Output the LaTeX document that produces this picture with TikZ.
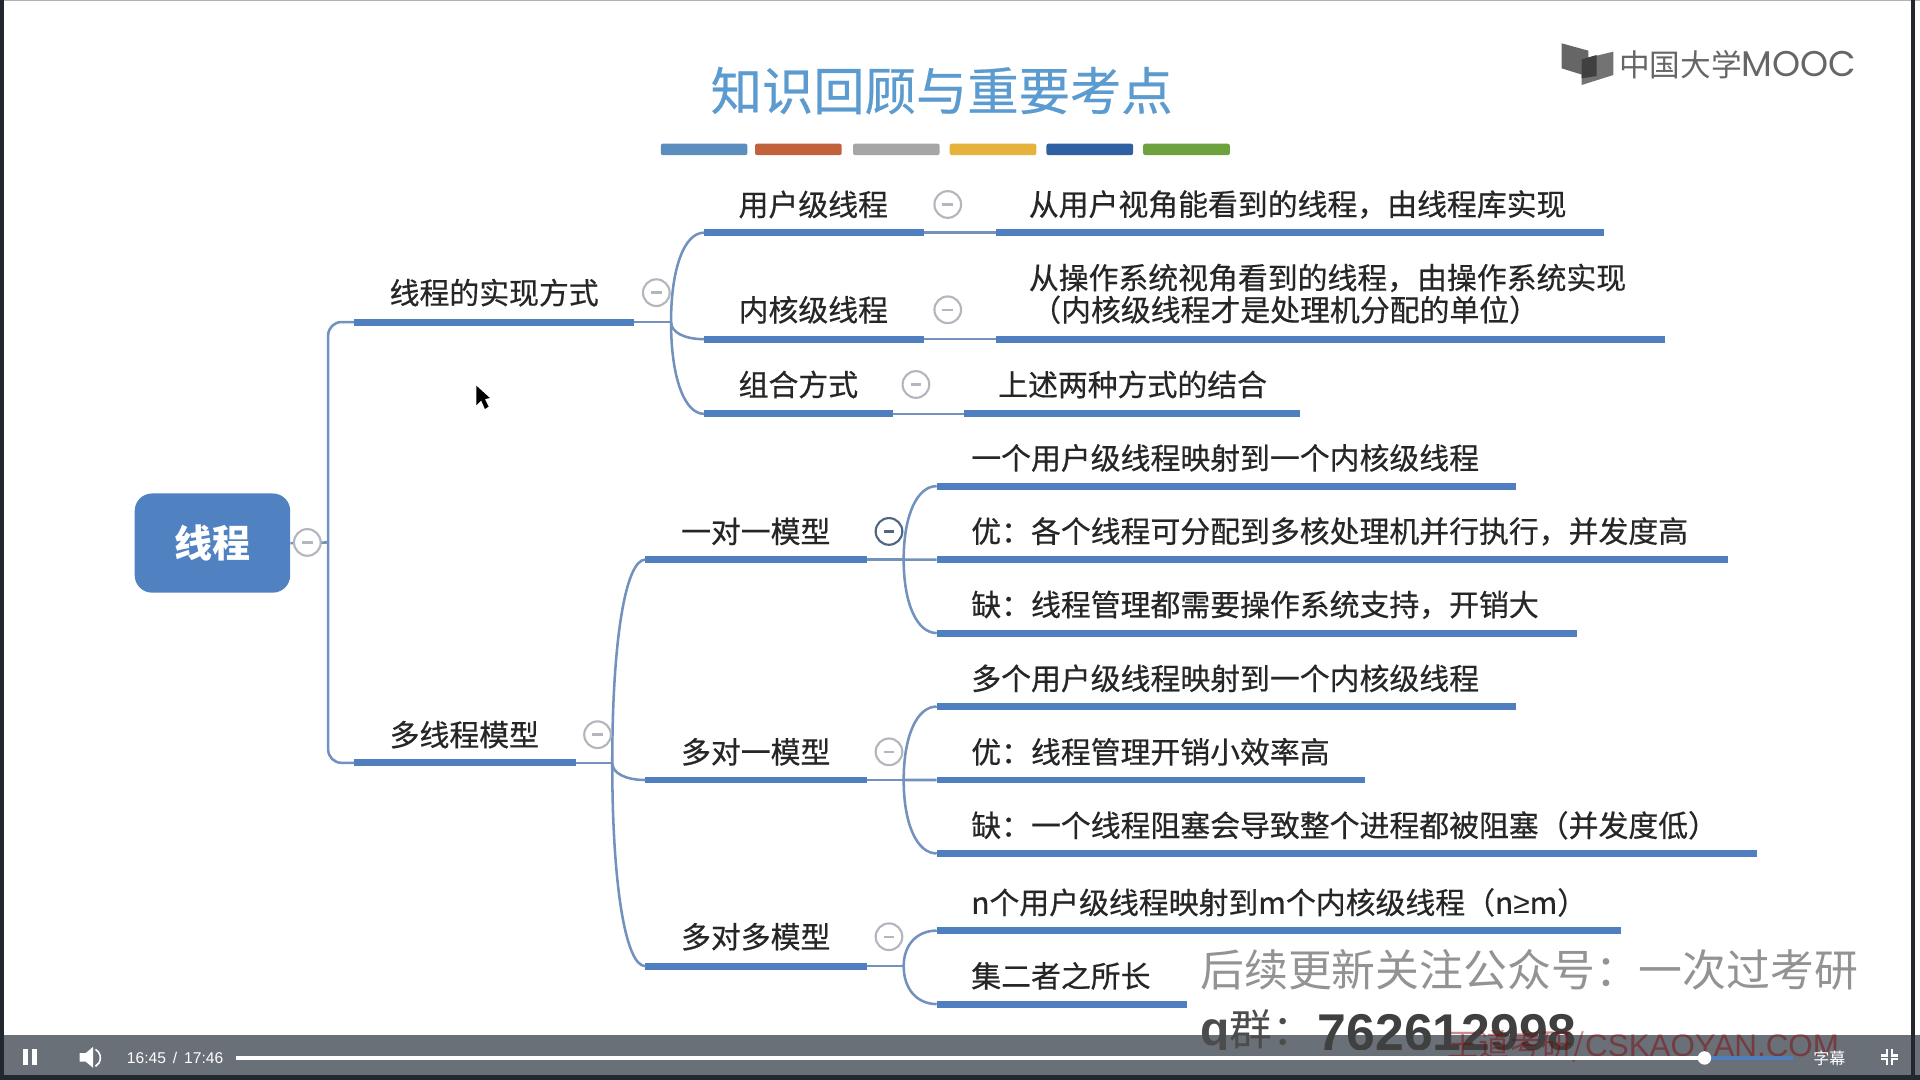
\documentclass[tikz,border=0pt]{standalone}
\usepackage{fontspec}
\usetikzlibrary{calc}
\setmainfont{Noto Sans CJK SC}
\newfontfamily\latinbold{Liberation Sans}
\newfontfamily\lblfont[FakeBold=0.5]{Noto Sans CJK SC}
\newfontfamily\moocfont{Poppins}
\newcommand{\qcomma}{\symbol{"FF0C}}
\newcommand{\qcolon}{\symbol{"FF1A}}
\definecolor{barblue}{HTML}{4F7FBE}
\definecolor{lineblue}{HTML}{7391BD}
\definecolor{rootblue}{HTML}{5081C1}
\definecolor{txt}{HTML}{262626}
\definecolor{playerbar}{HTML}{6A7078}
\definecolor{titleblue}{HTML}{5B9BD0}
\definecolor{darkedge}{HTML}{23272E}
\definecolor{foldgray}{HTML}{B4B6BE}
\tikzset{
  barline/.style={fill=barblue,draw=none,inner sep=0pt,outer sep=0pt,minimum height=5.2pt},
  conn/.style={draw=lineblue,line width=1.9pt},
  lbl/.style={anchor=west,inner sep=0pt,text=txt,font=\lblfont\fontsize{22.4}{26}\selectfont},
  fold/.style={circle,draw=#1,fill=white,line width=1.6pt,minimum size=20pt,inner sep=0pt,text=#1},
  fold/.default={foldgray},
  swatch/.style={draw=none,inner sep=0pt,minimum height=8.5pt,minimum width=65pt,rounded corners=1.5pt}
}
\newcommand{\tbar}[4]{\pgfmathsetlengthmacro\tw{(#3-#2)*0.91837pt}\node[barline,minimum width=\tw] (#1) at ({(#2+#3)/2},#4) {};}
\newcommand{\minusmark}{\rule{8pt}{1.8pt}}
\begin{document}
\begin{tikzpicture}[x=0.91837pt,y=-0.91837pt]
\useasboundingbox (0,0) rectangle (1568,882);
\fill[white] (0,0) rectangle (1568,882);
\fill[gray!60] (0,0) rectangle (1568,1);

% title
\node[inner sep=0pt,text=titleblue,font=\lblfont\fontsize{38.5}{44}\selectfont] (title) at (769,74) {知识回顾与重要考点};
\foreach \n/\a/\c in {s1/575/5B8EBF,s2/652/C2623C,s3/732/A6A6A6,s4/811/E5B33C,s5/890/2F60A3,s6/969/6EA23F}{
  \definecolor{tmpc}{HTML}{\c}
  \node[swatch,fill=tmpc] (\n) at (\a,122) {};
}

% logo
\begin{scope}[shift={(1225,16.33)},x=0.25pt,y=-0.25pt]
\fill[black!60] (185,70) -- (265,92) -- (265,170) -- (185,145) -- cycle;
\fill[black!55] (245,118) -- (340,95) -- (340,165) -- (245,195) -- cycle;
\fill[black!75] (245,118) -- (290,105) -- (290,168) -- (245,175) -- cycle;
\end{scope}
\node[anchor=west,inner sep=0pt,text=black!60,font=\fontsize{23}{26}\selectfont] (logo) at (1322,53) {中国大学{\moocfont\fontsize{26.8}{26}\selectfont MOOC}};

% root
\node[rounded corners=13pt,fill=rootblue,minimum width=116.6pt,minimum height=74.4pt,inner sep=0pt,text=white,font=\fontsize{28.5}{32}\selectfont\bfseries] (root) at (173.5,443.5) {线程};

% bars
\tbar{a}{289}{518}{263}
\tbar{b}{289}{470}{623}
\tbar{a1}{575}{755}{190}
\tbar{a2}{575}{755}{277}
\tbar{a3}{575}{729}{338}
\tbar{a1x}{813}{1310}{190}
\tbar{a2x}{813}{1360}{277}
\tbar{a3x}{787}{1062}{338}
\tbar{b1}{527}{708}{457}
\tbar{b2}{527}{708}{637}
\tbar{b3}{527}{708}{789}
\tbar{b1a}{765}{1238}{397}
\tbar{b1b}{765}{1411}{457}
\tbar{b1c}{765}{1288}{517}
\tbar{b2a}{765}{1238}{577}
\tbar{b2b}{765}{1115}{637}
\tbar{b2c}{765}{1435}{697}
\tbar{b3a}{765}{1324}{760}
\tbar{b3b}{765}{969}{820}

% junctions
\coordinate (jr) at (268,443);
\coordinate (ja) at (548,263);
\coordinate (jb) at (500,623);
\coordinate (jb1) at (738,457);
\coordinate (jb2) at (738,637);
\coordinate (jb3) at (738,789);

% connectors
\draw[conn,rounded corners=10pt] (a.west) -| (jr) |- (b.west);
\draw[conn] (root.east) -- (jr);
\draw[conn] (a.east) -- (ja);
\draw[conn] (b.east) -- (jb);
\draw[conn] (b1.east) -- (jb1);
\draw[conn] (b2.east) -- (jb2);
\draw[conn] (b3.east) -- (jb3);
\foreach \j/\t in {ja/a1,ja/a2,ja/a3,jb/b1,jb/b2,jb/b3,jb1/b1a,jb1/b1b,jb1/b1c,jb2/b2a,jb2/b2b,jb2/b2c,jb3/b3a,jb3/b3b}{
  \draw[conn] (\j) .. controls ($(\j)!0.6!(\j |- \t.west)$) and ($(\t.west)!0.6!(\j |- \t.west)$) .. (\t.west);
}
\draw[conn] (a1.east) -- (a1x.west);
\draw[conn] (a2.east) -- (a2x.west);
\draw[conn] (a3.east) -- (a3x.west);

% fold buttons
\foreach \n/\x/\y in {fr/251/443,fa/536/239,fb/488/600,fa1/774/167,fa2/774/253,fa3/748/314,fb2/726/614,fb3/726/765}{
  \node[fold] (\n) at (\x,\y) {\minusmark};
}
\node[fold=lineblue!70!black] (fb1) at (726,434) {\minusmark};

% labels
\node[lbl] (ta) at (318,239) {线程的实现方式};
\node[lbl] (tb) at (318,600) {多线程模型};
\node[lbl] (ta1) at (603,167) {用户级线程};
\node[lbl] (ta2) at (603,253) {内核级线程};
\node[lbl] (ta3) at (603,314) {组合方式};
\node[lbl] (ta1x) at (840,167) {从用户视角能看到的线程\qcomma 由线程库实现};
\node[lbl] (ta2x) at (840,227) {从操作系统视角看到的线程\qcomma 由操作系统实现};
\node[lbl] (ta2y) at (842,253) {（内核级线程才是处理机分配的单位）};
\node[lbl] (ta3x) at (815,314) {上述两种方式的结合};
\node[lbl] (tb1) at (556,434) {一对一模型};
\node[lbl] (tb2) at (556,614) {多对一模型};
\node[lbl] (tb3) at (556,765) {多对多模型};
\node[lbl] (tb1a) at (793,374) {一个用户级线程映射到一个内核级线程};
\node[lbl] (tb1b) at (793,434) {优\qcolon 各个线程可分配到多核处理机并行执行\qcomma 并发度高};
\node[lbl] (tb1c) at (793,494) {缺\qcolon 线程管理都需要操作系统支持\qcomma 开销大};
\node[lbl] (tb2a) at (793,554) {多个用户级线程映射到一个内核级线程};
\node[lbl] (tb2b) at (793,614) {优\qcolon 线程管理开销小效率高};
\node[lbl] (tb2c) at (793,674) {缺\qcolon 一个线程阻塞会导致整个进程都被阻塞（并发度低）};
\node[lbl] (tb3a) at (793,737) {n个用户级线程映射到m个内核级线程（n{\latinbold ≥}m）};
\node[lbl] (tb3b) at (793,797) {集二者之所长};

% cursor
\fill[black] (389,315) -- (389,331) -- (393,327) -- (396,334) -- (399,332) -- (396,326) -- (400,325) -- cycle;

% watermark
\node[anchor=west,inner sep=0pt,text=gray!85,font=\fontsize{32.9}{40}\selectfont] (wm) at (980,792) {后续更新关注公众号\qcolon 一次过考研};

% player
\fill[playerbar] (0,845) rectangle (1568,878);
\fill[darkedge] (0,878) rectangle (1568,882);
\fill[darkedge] (0,0) rectangle (3.5,882);
\fill[darkedge] (1561,0) rectangle (1564,882);

\begin{scope}
\clip (970,820) rectangle (1300,857);
\node[anchor=west,inner sep=0pt,text=black!70,font=\fontsize{32}{40}\selectfont] (wq) at (980,843) {{\latinbold\bfseries\fontsize{36}{40}\selectfont q}群\qcolon};
\node[anchor=west,inner sep=0pt,text=black!75,font=\latinbold\bfseries\fontsize{38.8}{40}\selectfont] (wn) at (1076,843) {762612998};
\end{scope}
\node[anchor=west,inner sep=0pt,text=red!50!black,opacity=.45,font=\fontsize{23.5}{26}\selectfont] (wm2) at (1182,854) {王道考研/\latinbold CSKAOYAN.COM};

\fill[white] (19,857) rectangle (23,870);
\fill[white] (26,857) rectangle (30,870);
\fill[white] (65,860) -- (70,860) -- (76,855) -- (76,872) -- (70,867) -- (65,867) -- cycle;
\draw[white,line width=1.2pt] (78,857) arc[start angle=-60,end angle=60,radius=8];
\node[inner sep=0pt,text=white,font=\latinbold\fontsize{11.7}{14}\selectfont] (time) at (143,864) {16:45\ \,/\ \,17:46};
\coordinate (p0) at (193,864);
\coordinate (p1) at (1392,864);
\coordinate (p2) at (1464,864);
\draw[barblue,line width=3.5pt] (p1) -- (p2);
\draw[white,line width=3.5pt] (p0) -- (p1);
\fill[white] (p1) circle (5.5);
\node[inner sep=0pt,text=white,font=\fontsize{12}{14}\selectfont] (sub) at (1494,864) {字幕};
\begin{scope}[white,line width=1.6pt]
\draw (1541,857) -- (1541,862) -- (1536,862);
\draw (1545,857) -- (1545,862) -- (1550,862);
\draw (1541,870) -- (1541,865) -- (1536,865);
\draw (1545,870) -- (1545,865) -- (1550,865);
\end{scope}
\end{tikzpicture}
\end{document}
